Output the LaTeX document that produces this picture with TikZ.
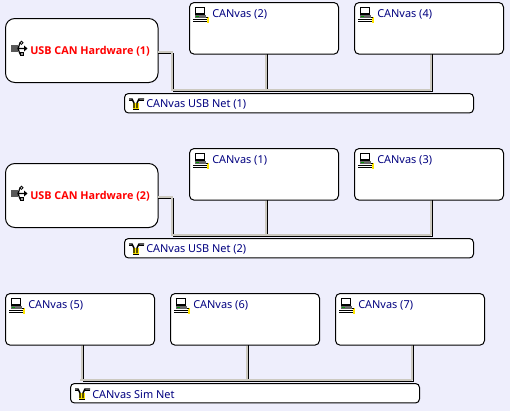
\documentclass[tikz,border=0pt]{standalone}
\usepackage{fontspec}
\setmainfont{Noto Sans}
\newfontfamily\hwfont{Open Sans}
\definecolor{panelbg}{RGB}{238,238,252}
\definecolor{wiregray}{RGB}{204,201,192}
\definecolor{canvasblue}{RGB}{0,0,128}
\definecolor{iconyellow}{RGB}{255,230,0}
\tikzset{
  devbox/.style={draw=black,fill=white,line width=0.75pt,outer sep=0pt,rounded corners=3.5pt,minimum width=111.75pt,minimum height=38.75pt,anchor=north west,inner sep=0pt},
  hwbox/.style={draw=black,fill=white,line width=0.75pt,outer sep=0pt,rounded corners=7pt,minimum width=114.4pt,minimum height=48pt,anchor=north west,inner sep=0pt},
  netbox/.style={draw=black,fill=white,line width=0.75pt,outer sep=0pt,rounded corners=3pt,minimum width=261.75pt,minimum height=14.6pt,anchor=north west,inner sep=0pt},
  devtext/.style={text=canvasblue,font=\fontsize{8.2pt}{10pt}\selectfont,anchor=west,inner sep=0pt},
  hwtext/.style={text=red,font=\hwfont\fontsize{8.1pt}{10pt}\selectfont\bfseries,anchor=west,inner sep=0pt},
  wirecore/.style={line width=0.75pt,black},
  wireedge/.style={line width=1.5pt,wiregray},
  edgeoff/.style={xshift=-1.125pt,yshift=1.125pt}
}
% one device icon, one net icon, one usb icon
\newcommand{\pcicon}[1]{%
  \begin{scope}[shift={(#1)},x=0.75pt,y=-0.75pt]
    \draw[black,line width=1.1pt,fill=white] (2.5,0.5) rectangle (11.5,7);
    \fill[black!60] (2,8) rectangle (13,11);
    \fill[green!60!black] (3,9) rectangle (6,10);
    \draw[black,line width=0.75pt] (0,12.5) -- (15,12.5) (0,14.5) -- (15,14.5);
    \fill[iconyellow] (14,10) rectangle (16,16);
    \draw[black,line width=0.5pt] (13,10) -- (14.5,10);
  \end{scope}}
\newcommand{\neticon}[1]{%
  \begin{scope}[shift={(#1)},x=0.75pt,y=-0.75pt]
    \fill[iconyellow] (3.5,5) rectangle (9.5,11);
    \draw[black,line width=1.1pt] (0,1) -- (3,1) -- (5,5) -- (5,10) (15,1) -- (10,1) -- (8,5) -- (8,10);
    \draw[black,line width=0.6pt] (0,2.5) -- (3,2.5) (15,2.5) -- (10,2.5);
    \draw[black,line width=0.75pt] (4,11) -- (9.5,11);
  \end{scope}}
\newcommand{\usbicon}[1]{%
  \begin{scope}[shift={(#1)},x=0.75pt,y=-0.75pt]
    \fill[black!65] (0,4) rectangle (7,11);
    \draw[black,line width=0.9pt] (7,7.5) -- (14,7.5) (7,7.5) -- (9,2) -- (10,2) (7,7.5) -- (9,13) -- (10,13);
    \fill[black] (13,4.5) -- (16.5,7.5) -- (13,10.5) -- cycle;
    \draw[black,line width=0.6pt,fill=black!40] (9,11) rectangle (12.5,14.5);
    \draw[black,line width=0.6pt,fill=white] (10.5,1.8) circle (1.6);
  \end{scope}}
\begin{document}
\begin{tikzpicture}[x=0.75pt,y=-0.75pt]
\useasboundingbox[fill=panelbg] (0,0) rectangle (510,411);

% first group
\node[hwbox] (hwa) at (5.5,18.5) {};
\node[devbox] (cana) at (189.5,2.5) {};
\node[devbox] (canb) at (354.5,2.5) {};
\node[netbox] (neta) at (124.5,93.5) {};
\coordinate (hwaturn) at (173.5,53);
\coordinate (neta1) at (173.5,91.5);
\coordinate (neta2) at (267.5,91.5);
\coordinate (neta3) at (432.5,91.5);
\draw[wirecore] (hwa.east |- hwaturn) -- (hwaturn) -- (neta1) -- (neta3);
\draw[wirecore] (cana.south -| neta2) -- (neta2);
\draw[wirecore] (canb.south -| neta3) -- (neta3);
\draw[wireedge] ([yshift=1.125pt]hwa.east |- hwaturn) -- ([edgeoff]hwaturn) -- ([edgeoff]neta1) -- ([edgeoff]neta3);
\draw[wireedge] ([xshift=-1.125pt,yshift=-0.75pt]cana.south -| neta2) -- ([edgeoff]neta2);
\draw[wireedge] ([xshift=-1.125pt,yshift=-0.75pt]canb.south -| neta3) -- ([edgeoff]neta3);

% second group
\node[hwbox] (hwb) at (5.5,163.5) {};
\node[devbox] (canc) at (189.5,148.5) {};
\node[devbox] (cand) at (354.5,148.5) {};
\node[netbox] (netb) at (124.5,238.5) {};
\coordinate (hwbturn) at (173.5,198);
\coordinate (netb1) at (173.5,236.5);
\coordinate (netb2) at (267.5,236.5);
\coordinate (netb3) at (432.5,236.5);
\draw[wirecore] (hwb.east |- hwbturn) -- (hwbturn) -- (netb1) -- (netb3);
\draw[wirecore] (canc.south -| netb2) -- (netb2);
\draw[wirecore] (cand.south -| netb3) -- (netb3);
\draw[wireedge] ([yshift=1.125pt]hwb.east |- hwbturn) -- ([edgeoff]hwbturn) -- ([edgeoff]netb1) -- ([edgeoff]netb3);
\draw[wireedge] ([xshift=-1.125pt,yshift=-0.75pt]canc.south -| netb2) -- ([edgeoff]netb2);
\draw[wireedge] ([xshift=-1.125pt,yshift=-0.75pt]cand.south -| netb3) -- ([edgeoff]netb3);

% third group
\node[devbox] (cane) at (5.5,293.5) {};
\node[devbox] (canf) at (170.5,293.5) {};
\node[devbox] (cang) at (335.5,293.5) {};
\node[netbox] (netc) at (70.5,383.5) {};
\coordinate (netc0) at (81.5,381.5);
\coordinate (netc1) at (83.5,381.5);
\coordinate (netc2) at (248.5,381.5);
\coordinate (netc3) at (413.5,381.5);
\draw[wirecore] (cane.south -| netc1) -- (netc1) -- (netc3);
\draw[wirecore] (canf.south -| netc2) -- (netc2);
\draw[wirecore] (cang.south -| netc3) -- (netc3);
\draw[wireedge] ([edgeoff]netc0) -- ([edgeoff]netc3);
\draw[wireedge] ([xshift=-1.125pt,yshift=-0.75pt]cane.south -| netc1) -- ([edgeoff]netc1);
\draw[wireedge] ([xshift=-1.125pt,yshift=-0.75pt]canf.south -| netc2) -- ([edgeoff]netc2);
\draw[wireedge] ([xshift=-1.125pt,yshift=-0.75pt]cang.south -| netc3) -- ([edgeoff]netc3);

% icons and labels
\usbicon{11,41}
\node[hwtext] (hwalabel) at (30,51) {USB CAN Hardware (1)};
\usbicon{11,186}
\node[hwtext] (hwblabel) at (30,196.5) {USB CAN Hardware (2)};
\foreach \px/\py/\lab/\nm in {193/7/CANvas (2)/la,358/7/CANvas (4)/lb,193/153/CANvas (1)/lc,358/153/CANvas (3)/ld,9/298/CANvas (5)/le,174/298/CANvas (6)/lf,339/298/CANvas (7)/lg}{
  \pcicon{\px,\py}
  \node[devtext] (\nm) at (\px+19,\py+7.5) {\lab};
}
\neticon{129,98}
\node[devtext] (netalabel) at (146,104) {CANvas USB Net (1)};
\neticon{129,243}
\node[devtext] (netblabel) at (146,249) {CANvas USB Net (2)};
\neticon{75,388}
\node[devtext] (netclabel) at (92,394.5) {CANvas Sim Net};
\end{tikzpicture}
\end{document}
